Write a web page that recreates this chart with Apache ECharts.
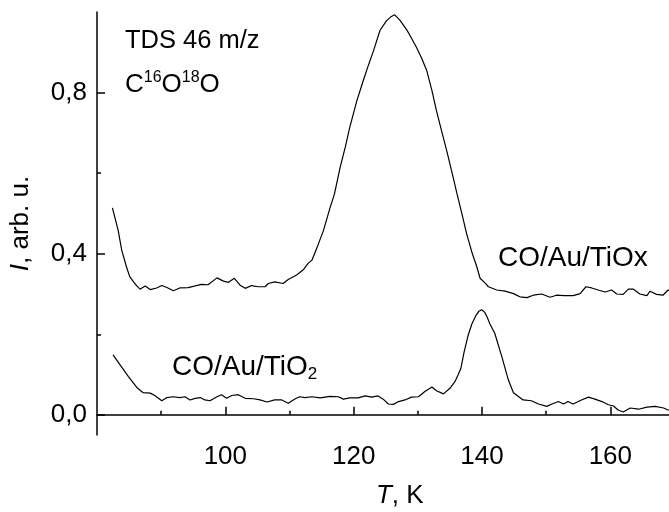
<!DOCTYPE html>
<html><head><meta charset="utf-8">
<script src="https://cdn.jsdelivr.net/npm/echarts@6/dist/echarts.min.js"></script>
<style>html,body{margin:0;padding:0;background:#fff}#c{width:669px;height:512px}</style>
</head><body><div id="c"></div>
<script>
// CO/Au/TiOx curve (upper)
const tiOxT = [82.4,83.3,83.85,84.6,85.1,85.7,86.2,86.7,87.5,88.3,89.3,90.1,90.9,91.9,92.9,94.2,95.3,96.3,97.3,98.7,99.7,100.5,101.4,102.3,103.1,104.1,105.1,106.2,106.7,107.7,109.0,109.8,111.1,112.2,112.9,113.5,114.4,115.3,116.3,117.0,117.9,118.7,119.4,120.5,121.5,122.3,123.1,124.1,125.1,125.8,126.4,127.2,128.3,128.8,129.8,130.6,131.4,132.2,132.9,133.7,134.5,135.3,136.1,136.9,137.6,138.4,139.2,139.7,140.5,141.0,142.3,143.6,144.9,145.9,147.0,148.0,149.3,150.6,151.6,152.9,154.2,155.3,156.2,157.1,158.1,159.2,160.2,161.0,162.0,162.8,163.6,164.6,165.7,166.2,167.2,168.2,169.0,170.0];
const tiOxI = [0.514,0.458,0.409,0.367,0.343,0.330,0.320,0.312,0.320,0.311,0.315,0.321,0.316,0.308,0.315,0.316,0.320,0.324,0.323,0.340,0.332,0.329,0.339,0.322,0.314,0.321,0.318,0.318,0.326,0.330,0.326,0.336,0.347,0.361,0.376,0.384,0.420,0.458,0.513,0.548,0.615,0.665,0.714,0.780,0.830,0.868,0.904,0.954,0.978,0.988,0.993,0.980,0.955,0.941,0.912,0.885,0.854,0.805,0.755,0.705,0.656,0.603,0.549,0.497,0.450,0.405,0.367,0.339,0.327,0.318,0.310,0.307,0.301,0.293,0.291,0.297,0.300,0.292,0.297,0.296,0.296,0.301,0.318,0.315,0.310,0.305,0.310,0.300,0.299,0.312,0.312,0.300,0.296,0.307,0.299,0.297,0.310,0.305];
// CO/Au/TiO2 curve (lower)
const tiO2T = [82.5,83.6,84.9,86.2,87.2,88.3,89.0,90.1,90.9,91.9,92.9,93.7,94.5,95.3,96.1,96.8,97.6,98.7,99.4,100.2,101.0,102.0,103.1,104.4,105.4,106.5,107.7,108.8,109.8,110.9,111.6,112.4,113.5,114.8,116.3,117.6,118.4,119.4,120.7,121.8,122.8,123.8,124.6,125.4,126.2,127.0,128.0,129.0,130.1,131.1,132.2,132.9,134.0,135.0,135.8,136.3,136.7,137.2,137.8,138.4,139.0,139.5,139.95,140.4,140.8,141.2,142.0,143.1,144.1,144.9,146.4,147.7,148.8,150.1,150.9,151.9,152.7,153.4,154.2,155.5,156.6,157.6,158.7,159.7,160.5,161.2,162.0,163.1,164.4,165.7,167.0,168.3,169.0,170.0];
const tiO2I = [0.149,0.124,0.095,0.068,0.055,0.054,0.048,0.035,0.043,0.045,0.043,0.045,0.037,0.041,0.043,0.037,0.035,0.045,0.050,0.041,0.048,0.050,0.041,0.040,0.037,0.032,0.037,0.037,0.029,0.040,0.045,0.043,0.045,0.042,0.046,0.045,0.039,0.042,0.042,0.047,0.044,0.047,0.039,0.027,0.026,0.033,0.037,0.044,0.045,0.058,0.069,0.060,0.052,0.066,0.083,0.100,0.115,0.155,0.195,0.225,0.245,0.257,0.261,0.255,0.243,0.227,0.202,0.144,0.087,0.055,0.037,0.035,0.027,0.021,0.027,0.033,0.027,0.033,0.027,0.037,0.044,0.039,0.033,0.025,0.022,0.012,0.007,0.017,0.014,0.019,0.021,0.017,0.012,0.012];

const xMajorTicks = [100, 120, 140, 160];
const xMinorTicks = [90, 110, 130, 150, 170];
const yMajorTicks = [0, 0.4, 0.8];
const yMinorTicks = [0.2, 0.6];

const FONT = '"Liberation Sans", Arial, sans-serif';
const pair = (xs, ys) => xs.map((x, i) => [x, ys[i]]);
const fmt = v => v.toFixed(1).replace('.', ',');
const black = '#000';

const chart = echarts.init(document.getElementById('c'), null, {renderer: 'canvas'});

const xBase = {type: 'value', min: 80, max: 170, position: 'bottom', splitLine: {show: false}};
const yBase = {type: 'value', min: -0.05, max: 1.0, position: 'left', splitLine: {show: false}};

chart.setOption({
  animation: false,
  backgroundColor: '#fff',
  grid: {left: 97, top: 12, width: 577.5, height: 423, containLabel: false, outerBoundsMode: 'none'},
  xAxis: [
    Object.assign({}, xBase, {
      axisLine: {lineStyle: {color: black, width: 1.5}},
      axisTick: {inside: true, length: 8, customValues: xMajorTicks, lineStyle: {color: black, width: 1.5}},
      axisLabel: {customValues: xMajorTicks, color: black, fontSize: 26, fontFamily: FONT, margin: 9},
      name: '{i|T}, K', nameLocation: 'middle', nameGap: 48,
      nameTextStyle: {color: black, fontSize: 26, fontFamily: FONT, padding: [0, 0, 0, 28],
        rich: {i: {fontStyle: 'italic', fontSize: 26, fontFamily: FONT, color: black}}}
    }),
    Object.assign({}, xBase, {
      axisLine: {show: false},
      axisTick: {inside: true, length: 4, customValues: xMinorTicks, lineStyle: {color: black, width: 1.5}},
      axisLabel: {show: false}
    })
  ],
  yAxis: [
    Object.assign({}, yBase, {
      axisLine: {lineStyle: {color: black, width: 1.5}},
      axisTick: {inside: true, length: 8, customValues: yMajorTicks, lineStyle: {color: black, width: 1.5}},
      axisLabel: {customValues: yMajorTicks, formatter: fmt, color: black, fontSize: 26, fontFamily: FONT, margin: 10},
      name: '{i|I}, arb. u.', nameLocation: 'middle', nameGap: 63, nameRotate: 90,
      nameTextStyle: {color: black, fontSize: 26, fontFamily: FONT,
        rich: {i: {fontStyle: 'italic', fontSize: 26, fontFamily: FONT, color: black}}}
    }),
    Object.assign({}, yBase, {
      axisLine: {show: false},
      axisTick: {inside: true, length: 4, customValues: yMinorTicks, lineStyle: {color: black, width: 1.5}},
      axisLabel: {show: false}
    })
  ],
  series: [
    {name: 'CO/Au/TiOx', type: 'line', data: pair(tiOxT, tiOxI), showSymbol: false, symbol: 'none',
     lineStyle: {color: black, width: 1.2}, clip: true},
    {name: 'CO/Au/TiO2', type: 'line', data: pair(tiO2T, tiO2I), showSymbol: false, symbol: 'none',
     lineStyle: {color: black, width: 1.2}, clip: true}
  ],
  graphic: [
    {type: 'text', left: 125, top: 28, style: {text: 'TDS 46 m/z', fontSize: 25.5, fontFamily: FONT, fill: black}},
    {type: 'text', left: 125, top: 70, style: {
      text: 'C{s|16}O{s|18}O', fontSize: 26, fontFamily: FONT, fill: black, lineHeight: 30,
      rich: {s: {fontSize: 16, fontFamily: FONT, fill: black, lineHeight: 16, verticalAlign: 'top'}}}},
    {type: 'text', left: 498, top: 244, style: {text: 'CO/Au/TiOx', fontSize: 28, fontFamily: FONT, fill: black}},
    {type: 'text', left: 172, top: 353, style: {
      text: '{m|CO/Au/TiO}{b|2}', fontSize: 28, fontFamily: FONT, fill: black, lineHeight: 40,
      rich: {m: {fontSize: 28, fontFamily: FONT, fill: black, lineHeight: 30, verticalAlign: 'top'},
             b: {fontSize: 17, fontFamily: FONT, fill: black, lineHeight: 17, verticalAlign: 'bottom'}}}}
  ]
});
</script>
</body></html>
